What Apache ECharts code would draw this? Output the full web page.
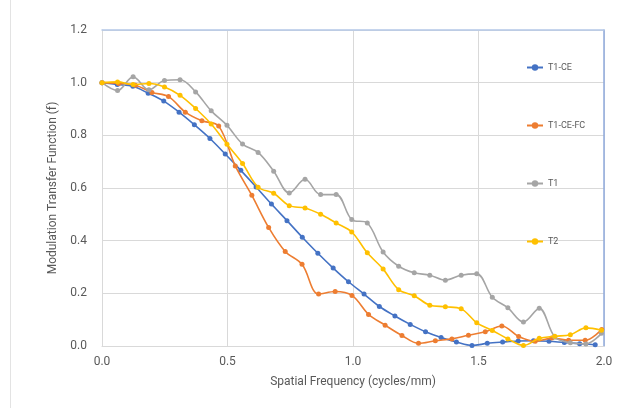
<!DOCTYPE html>
<html>
<head>
<meta charset="utf-8">
<title>Modulation Transfer Function</title>
<script src="https://cdn.jsdelivr.net/npm/echarts@6/dist/echarts.min.js"></script>
<style>
  html, body { margin: 0; padding: 0; background: #ffffff; }
  #chart { width: 631px; height: 408px; }
</style>
</head>
<body>
<div id="chart"></div>
<script>
// Spatial frequencies (cycles/mm) sampled for each measurement
const freqT1CE = [0, 0.061, 0.123, 0.184, 0.246, 0.307, 0.368, 0.430, 0.491, 0.553, 0.614,
  0.675, 0.737, 0.798, 0.860, 0.921, 0.982, 1.044, 1.105, 1.167, 1.228, 1.289,
  1.351, 1.412, 1.474, 1.535, 1.596, 1.658, 1.719, 1.781, 1.842, 1.903, 1.965];
const freqT1CEFC = [0, 0.066, 0.133, 0.199, 0.265, 0.332, 0.398, 0.465, 0.531, 0.597, 0.664,
  0.730, 0.797, 0.863, 0.929, 0.996, 1.062, 1.128, 1.195, 1.261, 1.328,
  1.394, 1.460, 1.527, 1.593, 1.660, 1.726, 1.792, 1.859, 1.925, 1.991];
const freqT1T2 = [0, 0.062, 0.124, 0.187, 0.249, 0.311, 0.373, 0.435, 0.498, 0.560, 0.622,
  0.684, 0.746, 0.809, 0.871, 0.933, 0.995, 1.057, 1.120, 1.182, 1.244, 1.306,
  1.368, 1.431, 1.493, 1.555, 1.617, 1.679, 1.742, 1.804, 1.866, 1.928, 1.990];

// MTF values
const mtfT1CE = [1.000, 0.993, 0.986, 0.960, 0.930, 0.888, 0.840, 0.788, 0.729, 0.667, 0.604,
  0.539, 0.476, 0.413, 0.352, 0.296, 0.244, 0.197, 0.150, 0.114, 0.082, 0.054,
  0.032, 0.015, 0.002, 0.010, 0.015, 0.019, 0.020, 0.018, 0.013, 0.009, 0.005];
const mtfT1CEFC = [1.000, 0.997, 0.990, 0.963, 0.947, 0.888, 0.855, 0.835, 0.684, 0.572, 0.450,
  0.359, 0.310, 0.197, 0.207, 0.192, 0.120, 0.079, 0.040, 0.010, 0.020,
  0.027, 0.041, 0.054, 0.076, 0.036, 0.018, 0.030, 0.022, 0.022, 0.063];
const mtfT1 = [1.000, 0.970, 1.022, 0.973, 1.008, 1.011, 0.965, 0.893, 0.838, 0.767, 0.735,
  0.664, 0.581, 0.633, 0.575, 0.575, 0.480, 0.467, 0.357, 0.303, 0.278, 0.269,
  0.250, 0.269, 0.274, 0.185, 0.145, 0.091, 0.143, 0.034, 0.012, 0.008, 0.048];
const mtfT2 = [1.000, 1.003, 0.993, 0.997, 0.984, 0.952, 0.902, 0.843, 0.766, 0.693, 0.603,
  0.580, 0.533, 0.524, 0.500, 0.467, 0.433, 0.354, 0.292, 0.214, 0.191, 0.155,
  0.149, 0.141, 0.088, 0.059, 0.027, 0.002, 0.029, 0.037, 0.043, 0.069, 0.060];

const seriesNames = ['T1-CE', 'T1-CE-FC', 'T1', 'T2'];
const seriesColors = ['#4472C4', '#ED7D31', '#A5A5A5', '#FFC000'];
const xTicks = { min: 0, max: 2, step: 0.5 };
const yTicks = { min: 0, max: 1.2, step: 0.2 };

const pairs = (xs, ys) => xs.map((x, i) => [x, ys[i]]);
const seriesData = [
  pairs(freqT1CE, mtfT1CE),
  pairs(freqT1CEFC, mtfT1CEFC),
  pairs(freqT1T2, mtfT1),
  pairs(freqT1T2, mtfT2)
];

const FONT = 'Roboto';
const TEXT = '#595959';
const GRID = '#D9D9D9';

const chart = echarts.init(document.getElementById('chart'), null, { renderer: 'canvas' });

const legendTops = [58, 116, 174, 232];

chart.setOption({
  animation: false,
  backgroundColor: '#ffffff',
  grid: { left: 102, right: 27, top: 30, bottom: 62, containLabel: false },
  legend: seriesNames.map((name, i) => ({
    data: [name],
    orient: 'vertical',
    left: 521,
    top: legendTops[i],
    itemWidth: 16,
    itemHeight: 8,
    textStyle: { color: TEXT, fontFamily: FONT, fontSize: 9 },
    selectedMode: false
  })),
  xAxis: [{
    type: 'value',
    min: xTicks.min, max: xTicks.max, interval: xTicks.step,
    name: 'Spatial Frequency (cycles/mm)',
    nameLocation: 'middle',
    nameGap: 30,
    nameTextStyle: { color: TEXT, fontFamily: FONT, fontSize: 12 },
    axisLine: { show: true, onZero: false, lineStyle: { color: GRID, width: 1 } },
    axisTick: { show: false },
    axisLabel: { color: TEXT, fontFamily: FONT, fontSize: 12, margin: 10,
      formatter: v => v.toFixed(1) },
    splitLine: { show: true, lineStyle: { color: GRID, width: 1 } }
  }, {
    // plot-area frame, top edge
    type: 'value', position: 'top',
    min: xTicks.min, max: xTicks.max,
    axisLine: { show: true, onZero: false, lineStyle: { color: '#B4C7E7', width: 1.5 } },
    axisTick: { show: false }, axisLabel: { show: false }, splitLine: { show: false }
  }],
  yAxis: [{
    type: 'value',
    min: yTicks.min, max: yTicks.max, interval: yTicks.step,
    name: 'Modulation Transfer Function (f)',
    nameLocation: 'middle',
    nameGap: 35,
    nameTextStyle: { color: TEXT, fontFamily: FONT, fontSize: 12 },
    axisLine: { show: true, onZero: false, lineStyle: { color: GRID, width: 1 } },
    axisTick: { show: false },
    axisLabel: { color: TEXT, fontFamily: FONT, fontSize: 12, margin: 15,
      formatter: v => v.toFixed(1) },
    splitLine: { show: true, lineStyle: { color: GRID, width: 1 } }
  }, {
    // plot-area frame, right edge
    type: 'value', position: 'right',
    min: yTicks.min, max: yTicks.max,
    axisLine: { show: true, onZero: false, lineStyle: { color: '#8FAADC', width: 1.5 } },
    axisTick: { show: false }, axisLabel: { show: false }, splitLine: { show: false }
  }],
  graphic: [{
    type: 'line',
    shape: { x1: 10.5, y1: 0, x2: 10.5, y2: 408 },
    style: { stroke: '#E3E3E3', lineWidth: 1 },
    silent: true
  }],
  series: seriesNames.map((name, i) => ({
    name: name,
    type: 'line',
    data: seriesData[i],
    smooth: 0.35,
    symbol: 'circle',
    symbolSize: 5,
    showSymbol: true,
    color: seriesColors[i],
    lineStyle: { width: 1.6, color: seriesColors[i] },
    itemStyle: { color: seriesColors[i] },
    z: 2 + i
  }))
});
</script>
</body>
</html>
